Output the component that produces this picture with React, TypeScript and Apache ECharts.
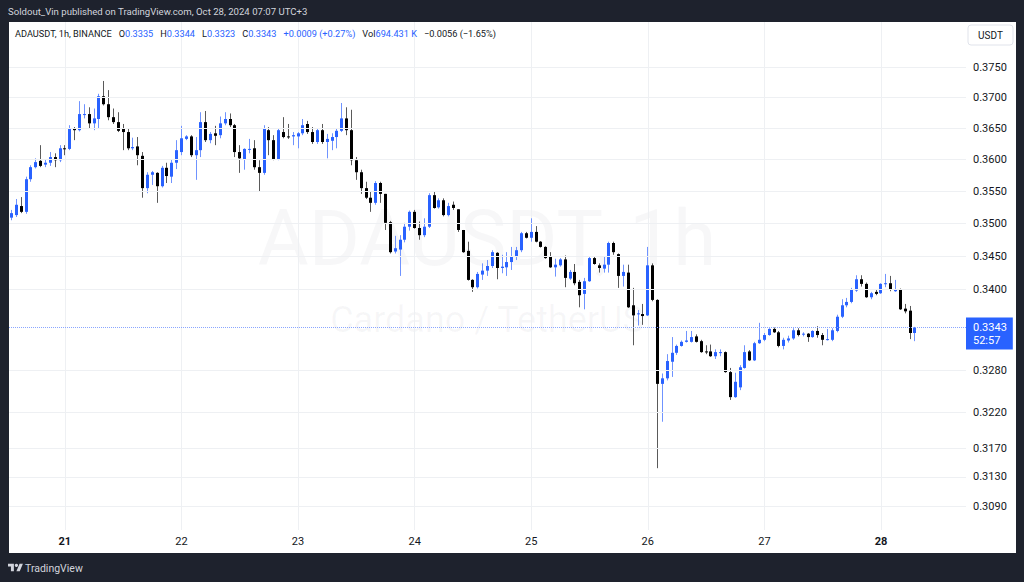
import React, { useEffect, useRef } from "react";
import * as echarts from "echarts";

// ---- DATA ----
const startDay = 20; // Oct 20, 13:00 (UTC+3) is the first candle
const startHour = 13;
const totalSlots = 197; // candles + empty space on the right

const opens = [0.3509,0.3513,0.3527,0.3518,0.3569,0.3588,0.3598,0.3592,0.3595,0.3604,0.3599,0.3618,0.3617,0.3650,0.3647,0.3672,0.3673,0.3658,0.3665,0.3702,0.3689,0.3668,0.3660,0.3649,0.3644,0.3618,0.3621,0.3606,0.3555,0.3576,0.3579,0.3558,0.3587,0.3573,0.3595,0.3612,0.3633,0.3637,0.3607,0.3615,0.3660,0.3631,0.3642,0.3639,0.3658,0.3665,0.3655,0.3612,0.3601,0.3616,0.3618,0.3588,0.3579,0.3647,0.3631,0.3601,0.3644,0.3637,0.3637,0.3637,0.3642,0.3657,0.3644,0.3628,0.3647,0.3628,0.3630,0.3636,0.3646,0.3666,0.3647,0.3599,0.3580,0.3555,0.3540,0.3532,0.3563,0.3546,0.3502,0.3457,0.3460,0.3475,0.3495,0.3518,0.3493,0.3482,0.3495,0.3544,0.3525,0.3536,0.3513,0.3529,0.3522,0.3490,0.3458,0.3414,0.3403,0.3422,0.3428,0.3435,0.3455,0.3432,0.3433,0.3441,0.3449,0.3459,0.3485,0.3478,0.3487,0.3472,0.3464,0.3449,0.3433,0.3436,0.3445,0.3416,0.3426,0.3411,0.3393,0.3412,0.3447,0.3436,0.3431,0.3437,0.3470,0.3453,0.3420,0.3425,0.3376,0.3363,0.3363,0.3361,0.3436,0.3384,0.3261,0.3269,0.3293,0.3306,0.3316,0.3322,0.3322,0.3330,0.3323,0.3308,0.3308,0.3301,0.3306,0.3307,0.3278,0.3242,0.3256,0.3284,0.3308,0.3295,0.3320,0.3325,0.3332,0.3341,0.3336,0.3316,0.3324,0.3327,0.3339,0.3333,0.3334,0.3329,0.3338,0.3332,0.3325,0.3325,0.3338,0.3359,0.3376,0.3381,0.3398,0.3415,0.3408,0.3388,0.3396,0.3394,0.3408,0.3409,0.3397,0.3399,0.3371,0.3368,0.3335];
const highs = [0.3521,0.3538,0.3541,0.3573,0.3591,0.3602,0.3623,0.3600,0.3612,0.3610,0.3623,0.3623,0.3655,0.3652,0.3694,0.3689,0.3684,0.3682,0.3706,0.3727,0.3712,0.3682,0.3676,0.3657,0.3650,0.3635,0.3636,0.3612,0.3580,0.3582,0.3580,0.3590,0.3595,0.3600,0.3631,0.3654,0.3639,0.3639,0.3636,0.3676,0.3678,0.3644,0.3654,0.3669,0.3676,0.3674,0.3657,0.3623,0.3618,0.3633,0.3631,0.3599,0.3655,0.3652,0.3639,0.3650,0.3668,0.3657,0.3644,0.3644,0.3665,0.3662,0.3652,0.3650,0.3657,0.3641,0.3642,0.3650,0.3691,0.3684,0.3680,0.3604,0.3584,0.3565,0.3549,0.3566,0.3565,0.3546,0.3504,0.3481,0.3482,0.3501,0.3520,0.3521,0.3503,0.3508,0.3547,0.3550,0.3539,0.3539,0.3532,0.3534,0.3522,0.3490,0.3472,0.3415,0.3426,0.3439,0.3444,0.3459,0.3456,0.3452,0.3456,0.3464,0.3464,0.3487,0.3487,0.3508,0.3496,0.3473,0.3465,0.3456,0.3446,0.3447,0.3451,0.3429,0.3438,0.3414,0.3417,0.3449,0.3449,0.3439,0.3449,0.3472,0.3472,0.3454,0.3437,0.3437,0.3402,0.3369,0.3378,0.3464,0.3439,0.3385,0.3276,0.3304,0.3329,0.3318,0.3324,0.3338,0.3338,0.3333,0.3325,0.3317,0.3318,0.3311,0.3311,0.3308,0.3284,0.3277,0.3288,0.3317,0.3310,0.3322,0.3350,0.3335,0.3342,0.3343,0.3338,0.3328,0.3331,0.3342,0.3342,0.3336,0.3335,0.3339,0.3345,0.3335,0.3341,0.3342,0.3362,0.3385,0.3387,0.3402,0.3421,0.3421,0.3410,0.3396,0.3400,0.3409,0.3423,0.3420,0.3414,0.3401,0.3378,0.3375,0.3344];
const lows = [0.3505,0.3510,0.3516,0.3515,0.3565,0.3586,0.3588,0.3588,0.3590,0.3588,0.3596,0.3607,0.3615,0.3631,0.3645,0.3666,0.3650,0.3647,0.3650,0.3687,0.3663,0.3657,0.3644,0.3615,0.3615,0.3615,0.3591,0.3540,0.3547,0.3560,0.3532,0.3556,0.3563,0.3563,0.3585,0.3607,0.3631,0.3604,0.3568,0.3604,0.3628,0.3626,0.3623,0.3634,0.3655,0.3652,0.3604,0.3579,0.3584,0.3610,0.3584,0.3549,0.3576,0.3607,0.3599,0.3599,0.3634,0.3633,0.3623,0.3618,0.3639,0.3641,0.3625,0.3625,0.3625,0.3602,0.3615,0.3618,0.3644,0.3639,0.3591,0.3568,0.3546,0.3538,0.3518,0.3529,0.3532,0.3490,0.3454,0.3454,0.3420,0.3471,0.3489,0.3492,0.3475,0.3479,0.3493,0.3523,0.3523,0.3511,0.3511,0.3521,0.3487,0.3455,0.3413,0.3396,0.3401,0.3414,0.3420,0.3432,0.3415,0.3424,0.3420,0.3429,0.3444,0.3456,0.3477,0.3472,0.3471,0.3463,0.3446,0.3432,0.3419,0.3434,0.3403,0.3414,0.3406,0.3373,0.3370,0.3411,0.3437,0.3425,0.3425,0.3425,0.3452,0.3402,0.3404,0.3372,0.3317,0.3346,0.3347,0.3360,0.3382,0.3142,0.3207,0.3266,0.3271,0.3303,0.3315,0.3321,0.3321,0.3321,0.3306,0.3304,0.3300,0.3297,0.3301,0.3277,0.3238,0.3241,0.3252,0.3283,0.3294,0.3294,0.3319,0.3323,0.3331,0.3335,0.3314,0.3311,0.3321,0.3325,0.3330,0.3330,0.3322,0.3328,0.3328,0.3317,0.3324,0.3323,0.3336,0.3357,0.3373,0.3379,0.3396,0.3404,0.3387,0.3385,0.3391,0.3393,0.3403,0.3397,0.3396,0.3369,0.3364,0.3326,0.3323];
const closes = [0.3516,0.3529,0.3518,0.3569,0.3588,0.3596,0.3590,0.3595,0.3604,0.3599,0.3618,0.3617,0.3650,0.3647,0.3673,0.3673,0.3658,0.3666,0.3702,0.3689,0.3668,0.3660,0.3646,0.3644,0.3618,0.3620,0.3607,0.3555,0.3576,0.3580,0.3558,0.3587,0.3574,0.3595,0.3615,0.3634,0.3637,0.3607,0.3615,0.3660,0.3631,0.3641,0.3638,0.3658,0.3665,0.3655,0.3612,0.3602,0.3617,0.3617,0.3588,0.3579,0.3650,0.3631,0.3601,0.3647,0.3636,0.3636,0.3639,0.3642,0.3655,0.3644,0.3628,0.3647,0.3628,0.3633,0.3636,0.3646,0.3666,0.3647,0.3599,0.3580,0.3555,0.3540,0.3532,0.3563,0.3546,0.3501,0.3456,0.3462,0.3475,0.3495,0.3518,0.3493,0.3482,0.3495,0.3544,0.3524,0.3536,0.3513,0.3527,0.3524,0.3490,0.3456,0.3414,0.3403,0.3423,0.3428,0.3435,0.3456,0.3432,0.3434,0.3441,0.3450,0.3459,0.3485,0.3478,0.3487,0.3472,0.3464,0.3447,0.3433,0.3437,0.3445,0.3417,0.3426,0.3409,0.3391,0.3412,0.3447,0.3438,0.3432,0.3437,0.3470,0.3456,0.3420,0.3426,0.3373,0.3361,0.3364,0.3360,0.3436,0.3384,0.3261,0.3269,0.3294,0.3306,0.3316,0.3322,0.3324,0.3329,0.3322,0.3307,0.3307,0.3301,0.3307,0.3307,0.3278,0.3242,0.3264,0.3285,0.3307,0.3295,0.3320,0.3325,0.3332,0.3341,0.3336,0.3316,0.3325,0.3327,0.3339,0.3332,0.3334,0.3329,0.3338,0.3332,0.3325,0.3326,0.3339,0.3359,0.3376,0.3381,0.3399,0.3415,0.3408,0.3388,0.3394,0.3393,0.3408,0.3409,0.3399,0.3400,0.3370,0.3367,0.3335,0.3343];

const priceTicks = ["0.3750", "0.3700", "0.3650", "0.3600", "0.3550", "0.3500", "0.3450", "0.3400", "0.3280", "0.3220", "0.3170", "0.3130", "0.3090"];
const lastPrice = "0.3343";
const countdown = "52:57";
const boldDays = ["21", "28"];
const priceMin = 0.30575;
const priceMax = 0.38252;

const titleText = "Soldout_Vin published on TradingView.com, Oct 28, 2024 07:07 UTC+3";
const watermarkMain = "ADAUSDT, 1h";
const watermarkSub = "Cardano / TetherUS";
const legendSymbol = "ADAUSDT, 1h, BINANCE";
const legendOHLC: [string, string][] = [["O", "0.3335"], ["H", "0.3344"], ["L", "0.3323"], ["C", "0.3343"]];
const legendChange = "+0.0009 (+0.27%)";
const legendVol = "694.431 K";
const legendDayChange = "\u22120.0056 (\u22121.65%)";

// categories: hourly slots
const categories: string[] = [];
for (let i = 0; i < totalSlots; i++) {
  const h = startHour + i;
  const d = startDay + Math.floor(h / 24);
  const hh = h % 24;
  categories.push(`${d} ${hh < 10 ? "0" + hh : hh}:00`);
}

// log price scale (scaled so marker values keep precision)
const LS = 10000;
const lg = (p: number) => Math.log(p) * LS;

const UP = "#2962ff";
const DOWN = "#000000";
const WICK_UP = "#6f93ff";
const WICK_DOWN = "#5a5a5a";
const GRID = "#eef0f3";
const FRAME = "#1e222d";
const TXT = "#131722";
const FONT = "Roboto, 'Noto Sans', sans-serif";

export default function App() {
  const ref = useRef<HTMLDivElement>(null);
  useEffect(() => {
    if (!ref.current) return;
    const chart = echarts.init(ref.current, undefined, { renderer: "svg" });
    echarts.graphic.registerShape(
      "tvlogo",
      echarts.graphic.extendPath("M14 22H7V11H0V4h14v18zM28 22h-8l7.5-18h8L28 22z", {})
    );
    const candleData = opens.map((o, i) => [i, lg(o), lg(closes[i]), lg(lows[i]), lg(highs[i])]);

    const isDayStart = (_idx: number, val: string) => val.endsWith(" 00:00");

    const legendText =
      `{d|${legendSymbol}}{g| }` +
      legendOHLC.map(([k, v]) => `{d|${k}}{b|${v}}`).join("{s| }") +
      `{s| }{b|${legendChange}}{g| }{d|Vol}{b|${legendVol}}{s| }{d|${legendDayChange}}`;

    const legendFont = { fontSize: 9.2, fontFamily: FONT };

    const option: any = {
      animation: false,
      backgroundColor: "#ffffff",
      textStyle: { fontFamily: FONT },
      grid: { left: 9, right: 58, top: 22, bottom: 52 },
      xAxis: {
        type: "category",
        data: categories,
        boundaryGap: true,
        axisLine: { show: false },
        axisTick: { show: false, alignWithLabel: true },
        axisLabel: {
          interval: isDayStart,
          margin: 6,
          color: TXT,
          fontSize: 11,
          fontFamily: FONT,
          formatter: (v: string) => {
            const d = v.split(" ")[0];
            return boldDays.includes(d) ? `{b|${d}}` : d;
          },
          rich: { b: { fontWeight: "bold", fontSize: 11, color: TXT, fontFamily: FONT } },
        },
        splitLine: { show: true, interval: isDayStart, alignWithLabel: true, lineStyle: { color: GRID, width: 1 } },
      },
      yAxis: {
        type: "value",
        min: lg(priceMin),
        max: lg(priceMax),
        show: false,
        scale: true,
      },
      graphic: {
        elements: [
          { type: "text", z: 0, x: 487, y: 238, style: { text: watermarkMain, fill: "rgba(120,123,134,0.06)", font: `78px ${FONT}`, align: "center", verticalAlign: "middle" } },
          { type: "text", z: 0, x: 487, y: 320, style: { text: watermarkSub, fill: "rgba(120,123,134,0.06)", font: `36px ${FONT}`, align: "center", verticalAlign: "middle" } },
          { type: "rect", z: 10, shape: { x: 0, y: 0, width: 1024, height: 22 }, style: { fill: FRAME } },
          { type: "rect", z: 10, shape: { x: 0, y: 553, width: 1024, height: 29 }, style: { fill: FRAME } },
          { type: "rect", z: 10, shape: { x: 0, y: 0, width: 9, height: 582 }, style: { fill: FRAME } },
          { type: "rect", z: 10, shape: { x: 1016, y: 0, width: 8, height: 582 }, style: { fill: FRAME } },
          { type: "text", z: 11, x: 8, y: 11, style: { text: titleText, fill: "#d1d4dc", font: `9.6px ${FONT}`, verticalAlign: "middle" } },
          {
            type: "text", z: 11, x: 15, y: 33,
            style: {
              text: legendText,
              verticalAlign: "middle",
              rich: {
                d: { ...legendFont, fill: TXT },
                b: { ...legendFont, fill: UP },
                s: { ...legendFont, width: 7 },
                g: { ...legendFont, width: 7 },
              },
            },
          },
          { type: "rect", z: 11, shape: { x: 968, y: 25, width: 45, height: 20, r: 3 }, style: { fill: "#ffffff", stroke: "#e0e3eb", lineWidth: 1 } },
          { type: "text", z: 12, x: 990.5, y: 35, style: { text: "USDT", fill: TXT, font: `10px ${FONT}`, align: "center", verticalAlign: "middle" } },
          { type: "tvlogo", z: 11, x: 8, y: 562, scaleX: 0.42, scaleY: 0.42, style: { fill: "#d1d4dc" } },
          { type: "circle", z: 11, shape: { cx: 8 + 20 * 0.42, cy: 562 + 8 * 0.42, r: 4 * 0.42 }, style: { fill: "#d1d4dc" } },
          { type: "text", z: 11, x: 25, y: 568, style: { text: "TradingView", fill: "#d1d4dc", font: `10.5px ${FONT}`, verticalAlign: "middle" } },
        ],
      },
      series: [
        {
          type: "line",
          z: 1,
          data: [],
          silent: true,
          markLine: {
            silent: true,
            symbol: "none",
            precision: 6,
            lineStyle: { color: GRID, type: "solid", width: 1 },
            label: { position: "end", distance: 7, color: TXT, fontSize: 11, fontFamily: FONT, formatter: (p: any) => p.name },
            data: priceTicks.map((t) => ({ name: t, yAxis: lg(parseFloat(t)) })),
          },
        },
        {
          type: "custom",
          z: 3,
          data: candleData,
          encode: { x: 0, y: [1, 2, 3, 4] },
          renderItem: (_params: any, api: any) => {
            const idx = api.value(0);
            const o = api.value(1), c = api.value(2), l = api.value(3), h = api.value(4);
            const pO = api.coord([idx, o]);
            const pC = api.coord([idx, c]);
            const pL = api.coord([idx, l]);
            const pH = api.coord([idx, h]);
            const left = Math.round(pO[0] - 1.5);
            const yTop = Math.min(pO[1], pC[1]);
            const yBot = Math.max(pO[1], pC[1]);
            const up = c >= o;
            return {
              type: "group",
              children: [
                { type: "line", shape: { x1: left + 1.5, y1: pH[1], x2: left + 1.5, y2: pL[1] }, style: { stroke: up ? WICK_UP : WICK_DOWN, lineWidth: 1 } },
                { type: "rect", shape: { x: left, y: yTop, width: 3, height: Math.max(1, yBot - yTop) }, style: { fill: up ? UP : DOWN } },
              ],
            };
          },
        },
        {
          type: "line",
          z: 4,
          data: [],
          silent: true,
          markLine: {
            silent: true,
            symbol: "none",
            precision: 6,
            lineStyle: { color: "#8aa6ff", type: "dotted", width: 1 },
            label: {
              position: "end",
              distance: 0,
              color: "#ffffff",
              fontSize: 11,
              lineHeight: 13,
              fontFamily: FONT,
              backgroundColor: UP,
              padding: [3, 6, 3, 7],
              offset: [0, 6],
              formatter: () => `${lastPrice}\n${countdown}`,
            },
            data: [{ yAxis: lg(parseFloat(lastPrice)) }],
          },
        },
      ],
    };
    chart.setOption(option);
    return () => chart.dispose();
  }, []);
  return <div ref={ref} style={{ position: "fixed", left: 0, top: 0, width: 1024, height: 582 }} />;
}
